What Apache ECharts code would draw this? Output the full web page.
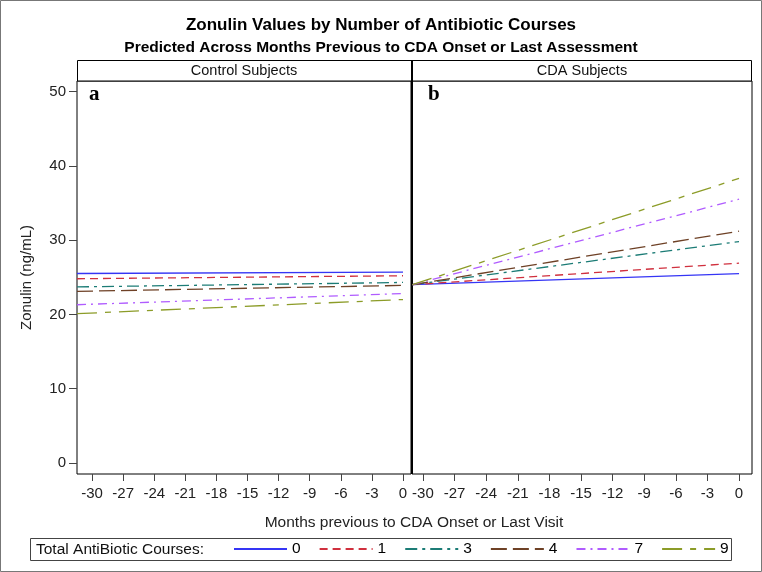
<!DOCTYPE html>
<html><head><meta charset="utf-8">
<script src="https://cdn.jsdelivr.net/npm/echarts@6/dist/echarts.min.js"></script>
<style>html,body{margin:0;padding:0;background:#fff}#c{width:762px;height:572px}</style>
</head><body><div id="c"></div>
<script>
var courses = ['0','1','3','4','7','9'];
var xTicks = [-30,-27,-24,-21,-18,-15,-12,-9,-6,-3,0];
var yTicks = [0,10,20,30,40,50];
var controlX = [-31.45, 0];
var cdaX = [-31.0, 0];
var controlStart = [25.5, 24.8, 23.7, 23.1, 21.3, 20.1];
var controlEnd   = [25.7, 25.2, 24.3, 23.9, 22.8, 22.0];
var cdaStart = [24.0, 24.0, 24.0, 24.0, 24.0, 24.0];
var cdaEnd   = [25.5, 26.9, 29.8, 31.2, 35.5, 38.3];
var panelTitles = ['Control Subjects','CDA Subjects'];
var panelLetters = ['a','b'];

var colors = ['#3535f5','#d0303e','#1c7c76','#6e4126','#b05cff','#8c9c28'];
var dashes = ['solid',[8,5],[12,5,3,5],[16,6],[9,5,2,5],[20,8,6,8]];
var font = 'Liberation Sans, Arial, sans-serif';

var series = [];
courses.forEach(function(c,i){
  series.push({name:c,type:'line',xAxisIndex:0,yAxisIndex:0,symbol:'none',silent:true,
    data:[[controlX[0],controlStart[i]],[controlX[1],controlEnd[i]]],
    lineStyle:{color:colors[i],width:1.3,type:dashes[i]},itemStyle:{color:colors[i]}});
});
courses.forEach(function(c,i){
  series.push({name:c,type:'line',xAxisIndex:1,yAxisIndex:1,symbol:'none',silent:true,
    data:[[cdaX[0],cdaStart[i]],[cdaX[1],cdaEnd[i]]],
    lineStyle:{color:colors[i],width:1.3,type:dashes[i]},itemStyle:{color:colors[i]}});
});

function xAxis(idx,min,max){
  return {type:'value',gridIndex:idx,min:min,max:max,
    axisLine:{show:false,onZero:false},splitLine:{show:false},
    axisTick:{show:true,length:7,lineStyle:{color:'#444'},customValues:xTicks},
    axisLabel:{color:'#222',fontSize:15,fontFamily:font,margin:12,customValues:xTicks}};
}
var chart = echarts.init(document.getElementById('c'),null,{renderer:'canvas'});
chart.setOption({
  animation:false,
  title:[
    {text:'Zonulin Values by Number of Antibiotic Courses',left:'center',top:12,
     textStyle:{fontSize:17,fontWeight:'bold',color:'#000',fontFamily:font}},
    {text:'Predicted Across Months Previous to CDA Onset or Last Assessment',left:'center',top:35,
     textStyle:{fontSize:15.5,fontWeight:'bold',color:'#000',fontFamily:font}}
  ],
  grid:[
    {left:77,top:81,width:334,height:393,show:true,borderColor:'#000',borderWidth:1,backgroundColor:'transparent'},
    {left:412,top:81,width:340,height:393,show:true,borderColor:'#000',borderWidth:1,backgroundColor:'transparent'}
  ],
  xAxis:[xAxis(0,-31.45,0.77), xAxis(1,-31.04,1.23)],
  yAxis:[
    {type:'value',gridIndex:0,min:-1.48,max:51.41,
     name:'Zonulin (ng/mL)',nameLocation:'middle',nameGap:43,
     nameTextStyle:{fontSize:15,color:'#222',fontFamily:font},
     axisLine:{show:false,onZero:false},splitLine:{show:false},
     axisTick:{show:true,length:8,lineStyle:{color:'#444'},customValues:yTicks},
     axisLabel:{color:'#222',fontSize:15,fontFamily:font,margin:11,customValues:yTicks}},
    {type:'value',gridIndex:1,min:-1.48,max:51.41,
     axisLine:{show:false,onZero:false},splitLine:{show:false},axisTick:{show:false},axisLabel:{show:false}}
  ],
  legend:{data:courses,left:228,top:536,itemWidth:53,itemHeight:14,itemGap:18,
    itemStyle:{opacity:0},
    textStyle:{fontSize:15.5,color:'#000',fontFamily:font},selectedMode:false},
  graphic:[
    {type:'rect',shape:{x:0.5,y:0.5,width:761,height:571},style:{fill:'none',stroke:'#777',lineWidth:1},silent:true},
    {type:'rect',shape:{x:77.5,y:60.5,width:334,height:20.5},style:{fill:'#fff',stroke:'#000',lineWidth:1},silent:true},
    {type:'rect',shape:{x:411.5,y:60.5,width:340,height:20.5},style:{fill:'#fff',stroke:'#000',lineWidth:1},silent:true},
    {type:'rect',shape:{x:411,y:60,width:2,height:414},style:{fill:'#000'},silent:true},
    {type:'text',x:244,y:71,style:{text:panelTitles[0],fontSize:14.5,fontFamily:font,fill:'#111',align:'center',verticalAlign:'middle'},silent:true},
    {type:'text',x:582,y:71,style:{text:panelTitles[1],fontSize:14.5,fontFamily:font,fill:'#111',align:'center',verticalAlign:'middle'},silent:true},
    {type:'text',x:89,y:95,style:{text:panelLetters[0],fontSize:21,fontWeight:'bold',fontFamily:'Liberation Serif, Times New Roman, serif',fill:'#000',verticalAlign:'middle'},silent:true},
    {type:'text',x:428,y:95,style:{text:panelLetters[1],fontSize:21,fontWeight:'bold',fontFamily:'Liberation Serif, Times New Roman, serif',fill:'#000',verticalAlign:'middle'},silent:true},
    {type:'text',x:414,y:523,style:{text:'Months previous to CDA Onset or Last Visit',fontSize:15.5,fontFamily:font,fill:'#222',align:'center',verticalAlign:'middle'},silent:true},
    {type:'rect',shape:{x:30.5,y:538.5,width:701,height:22},style:{fill:'none',stroke:'#444',lineWidth:1},silent:true},
    {type:'text',x:36,y:550,style:{text:'Total AntiBiotic Courses:',fontSize:15.5,fontFamily:font,fill:'#111',verticalAlign:'middle'},silent:true}
  ],
  series:series
});
</script></body></html>
